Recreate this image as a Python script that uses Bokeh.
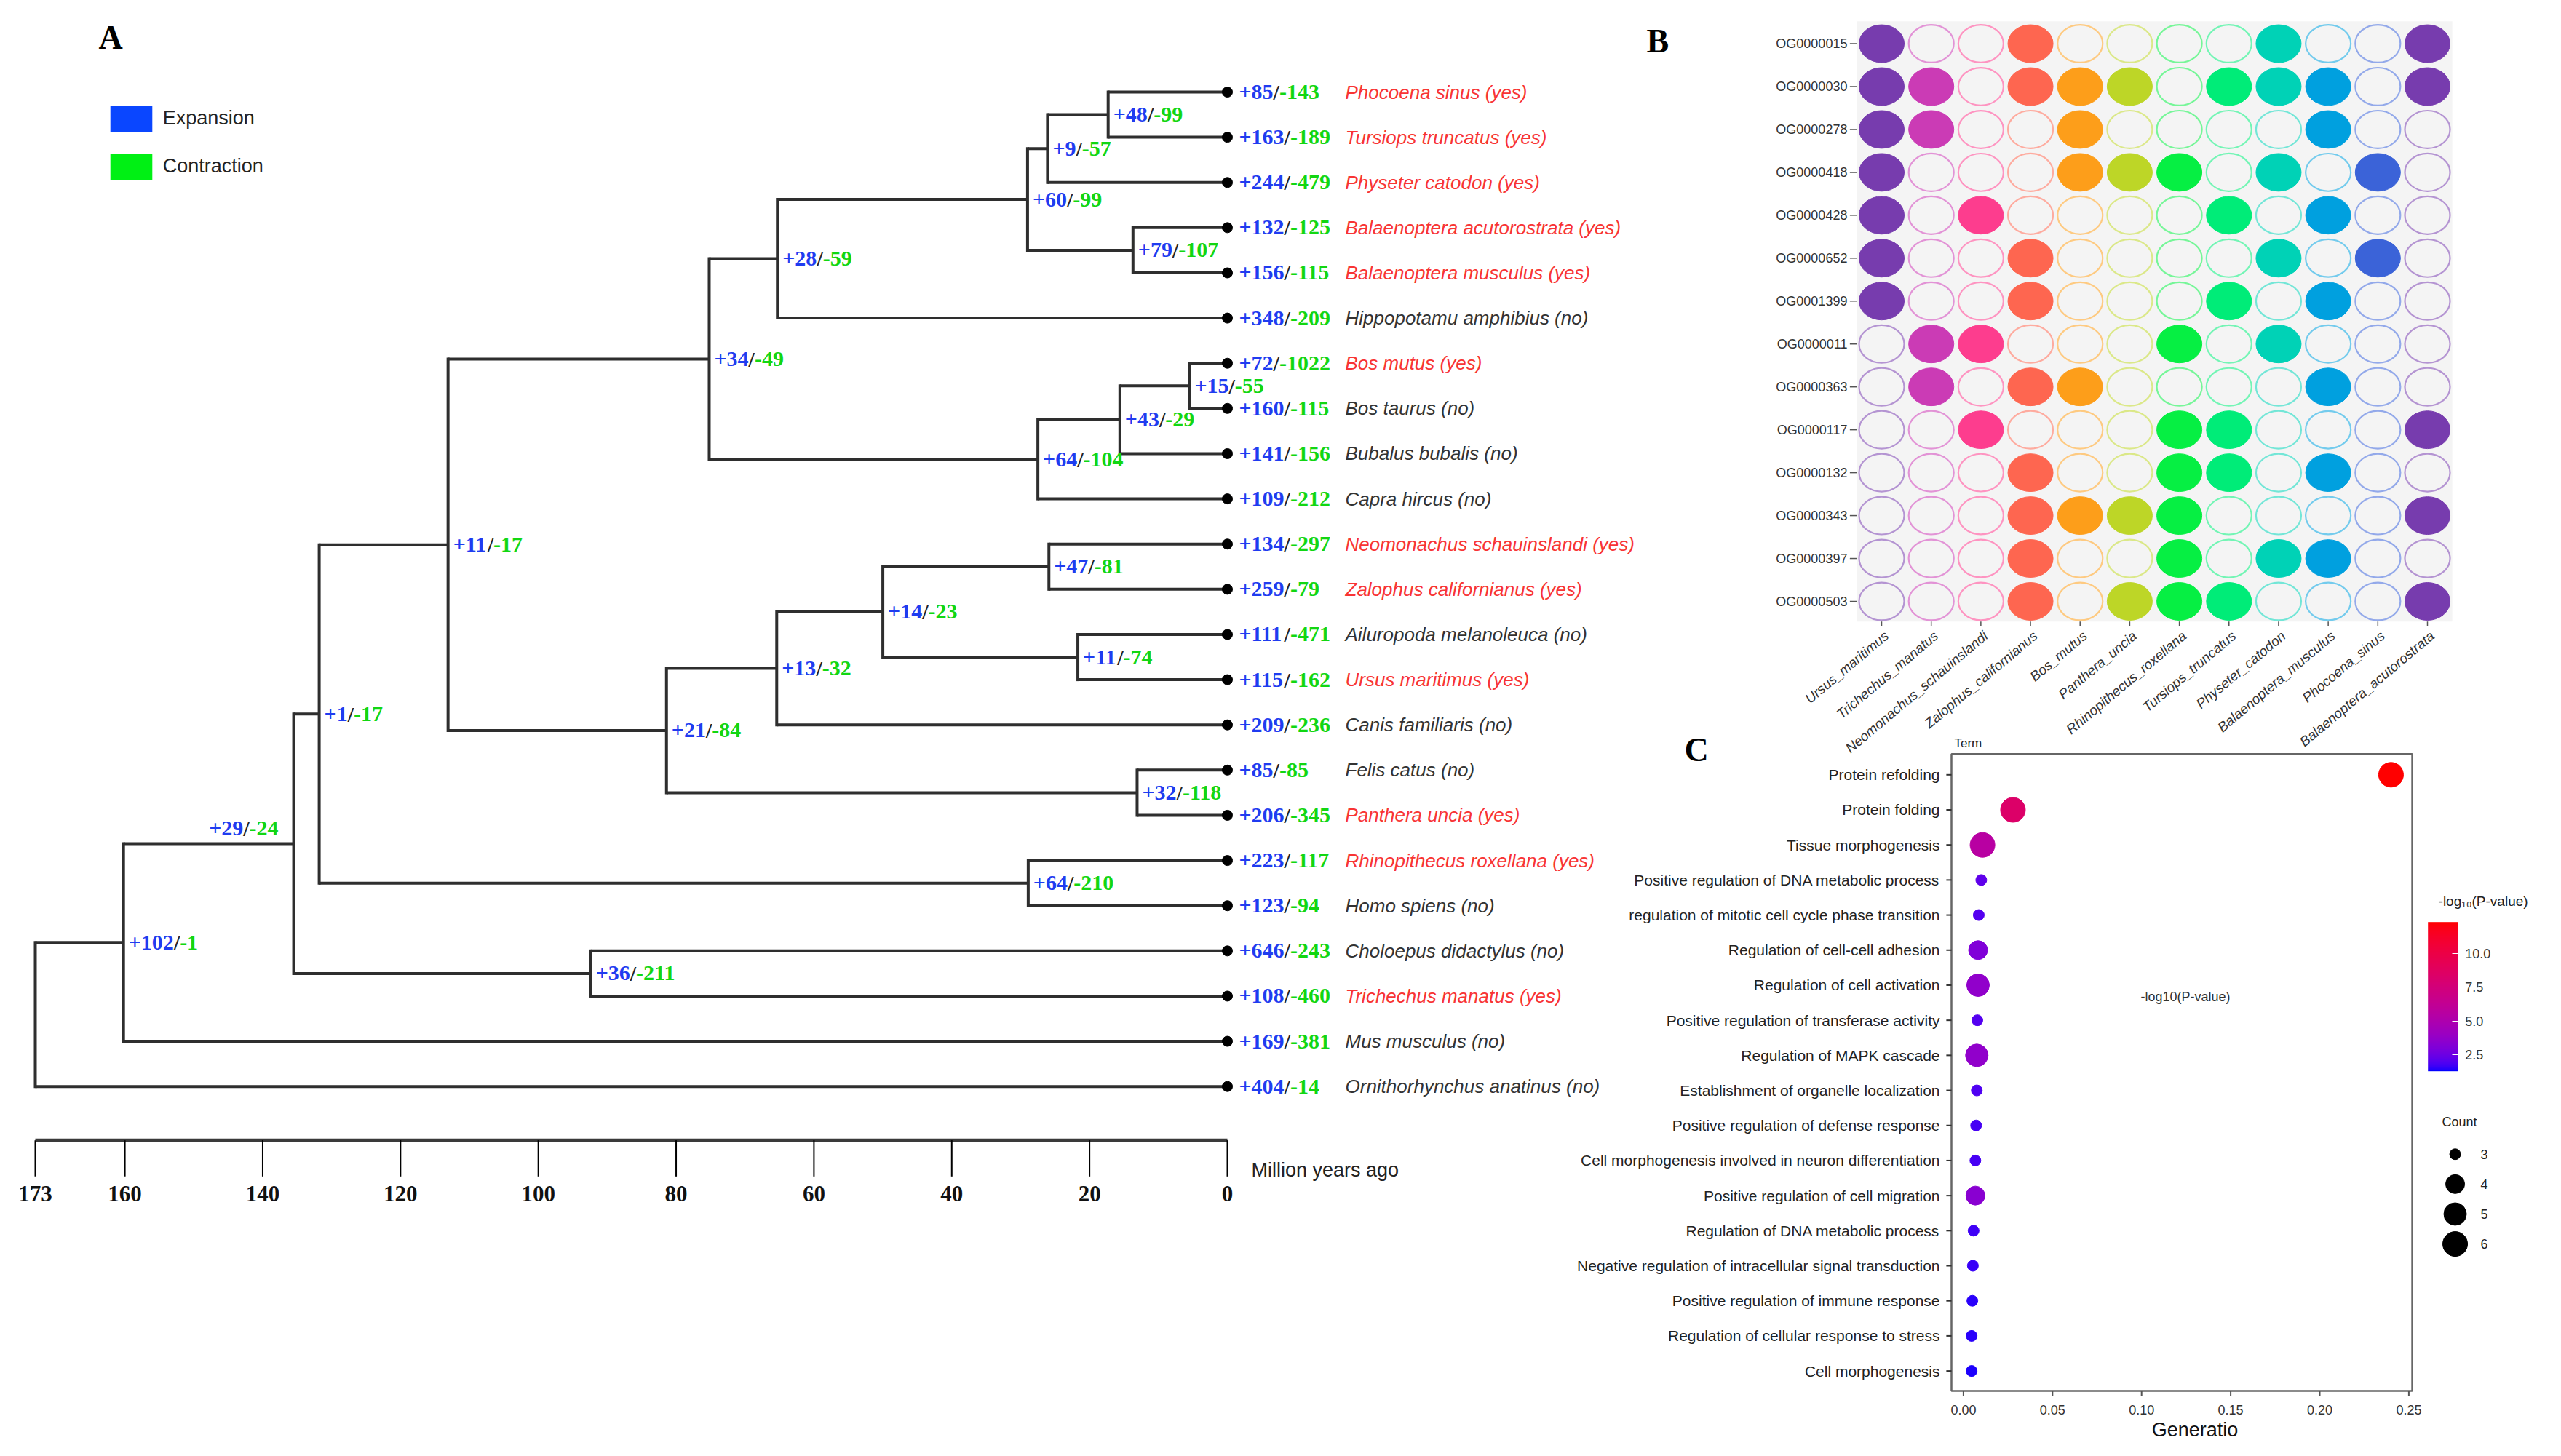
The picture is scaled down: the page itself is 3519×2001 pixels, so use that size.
import numpy as np
from bokeh.plotting import figure
from bokeh.models import (Range1d, ColumnDataSource, Legend, LegendItem, ColorBar,
                          LinearColorMapper, FixedTicker, PrintfTickFormatter)
from bokeh.core.properties import value
from bokeh.embed import file_html
from bokeh.resources import INLINE

# ======================= Panel A : data =======================
tip_names = ["Phocoena sinus", "Tursiops truncatus", "Physeter catodon",
             "Balaenoptera acutorostrata", "Balaenoptera musculus", "Hippopotamu amphibius",
             "Bos mutus", "Bos taurus", "Bubalus bubalis", "Capra hircus",
             "Neomonachus schauinslandi", "Zalophus californianus", "Ailuropoda melanoleuca",
             "Ursus maritimus", "Canis familiaris", "Felis catus", "Panthera uncia",
             "Rhinopithecus roxellana", "Homo spiens", "Choloepus didactylus",
             "Trichechus manatus", "Mus musculus", "Ornithorhynchus anatinus"]
tip_status = ["yes", "yes", "yes", "yes", "yes", "no", "yes", "no", "no", "no", "yes", "yes",
              "no", "yes", "no", "no", "yes", "yes", "no", "no", "yes", "no", "no"]
tip_expansion = [85, 163, 244, 132, 156, 348, 72, 160, 141, 109, 134, 259, 111, 115, 209,
                 85, 206, 223, 123, 646, 108, 169, 404]
tip_contraction = [143, 189, 479, 125, 115, 209, 1022, 115, 156, 212, 297, 79, 471, 162,
                   236, 85, 345, 117, 94, 243, 460, 381, 14]

node_names = ["PT", "PTP", "BAL", "CET", "WHI", "BOS", "BOV1", "BOV2", "CART",
              "PIN", "URS", "ARC", "CAN", "FEL", "CAR", "LAU", "PRI", "BOR",
              "XAF", "EUT", "THE", "ROOT"]
node_children = [["Phocoena sinus", "Tursiops truncatus"],
                 ["PT", "Physeter catodon"],
                 ["Balaenoptera acutorostrata", "Balaenoptera musculus"],
                 ["PTP", "BAL"],
                 ["CET", "Hippopotamu amphibius"],
                 ["Bos mutus", "Bos taurus"],
                 ["BOS", "Bubalus bubalis"],
                 ["BOV1", "Capra hircus"],
                 ["WHI", "BOV2"],
                 ["Neomonachus schauinslandi", "Zalophus californianus"],
                 ["Ailuropoda melanoleuca", "Ursus maritimus"],
                 ["PIN", "URS"],
                 ["ARC", "Canis familiaris"],
                 ["Felis catus", "Panthera uncia"],
                 ["CAN", "FEL"],
                 ["CART", "CAR"],
                 ["Rhinopithecus roxellana", "Homo spiens"],
                 ["LAU", "PRI"],
                 ["Choloepus didactylus", "Trichechus manatus"],
                 ["BOR", "XAF"],
                 ["EUT", "Mus musculus"],
                 ["THE", "Ornithorhynchus anatinus"]]
node_age = [17.3, 26.1, 13.7, 29.0, 65.3, 5.5, 15.6, 27.5, 75.2,
            25.9, 21.7, 50.0, 65.4, 13.1, 81.4, 113.1, 28.9, 131.8,
            92.4, 135.5, 160.2, 173.0]
node_expansion = [48, 9, 79, 60, 28, 15, 43, 64, 34, 47, 11, 14, 13, 32, 21, 11, 64, 1,
                  36, 29, 102, None]
node_contraction = [99, 57, 107, 99, 59, 55, 29, 104, 49, 81, 74, 23, 32, 118, 84, 17,
                    210, 17, 211, 24, 1, None]
node_label_side = ["right"] * 19 + ["above", "right", "right"]

time_ticks = [173, 160, 140, 120, 100, 80, 60, 40, 20, 0]
legend_labels = ["Expansion", "Contraction"]

# ======================= Panel B : data =======================
og_ids = ["OG0000015", "OG0000030", "OG0000278", "OG0000418", "OG0000428", "OG0000652",
          "OG0001399", "OG0000011", "OG0000363", "OG0000117", "OG0000132", "OG0000343",
          "OG0000397", "OG0000503"]
b_species = ["Ursus_maritimus", "Trichechus_manatus", "Neomonachus_schauinslandi",
             "Zalophus_californianus", "Bos_mutus", "Panthera_uncia",
             "Rhinopithecus_roxellana", "Tursiops_truncatus", "Physeter_catodon",
             "Balaenoptera_musculus", "Phocoena_sinus", "Balaenoptera_acutorostrata"]
b_members = ["100100001001",
             "110111011101",
             "110010000100",
             "100011101010",
             "101000010100",
             "100100001010",
             "100100010100",
             "011000101000",
             "010110000100",
             "001000110001",
             "000100110100",
             "000111100001",
             "000100101100",
             "000101110001"]

# ======================= Panel C : data =======================
go_terms = ["Protein refolding", "Protein folding", "Tissue morphogenesis",
            "Positive regulation of DNA metabolic process",
            "regulation of mitotic cell cycle phase transition",
            "Regulation of cell-cell adhesion", "Regulation of cell activation",
            "Positive regulation of transferase activity", "Regulation of MAPK cascade",
            "Establishment of organelle localization",
            "Positive regulation of defense response",
            "Cell morphogenesis involved in neuron differentiation",
            "Positive regulation of cell migration", "Regulation of DNA metabolic process",
            "Negative regulation of intracellular signal transduction",
            "Positive regulation of immune response",
            "Regulation of cellular response to stress", "Cell morphogenesis"]
gene_ratio = [0.240, 0.0278, 0.0107, 0.0100, 0.0086, 0.0082, 0.0082, 0.0078, 0.0075,
              0.0075, 0.0071, 0.0067, 0.0067, 0.0057, 0.0053, 0.0050, 0.0046, 0.0046]
go_count = [6, 6, 6, 3, 3, 4, 5, 3, 5, 3, 3, 3, 4, 3, 3, 3, 3, 3]
neg_log10_p = [12.3, 8.4, 5.6, 2.2, 2.0, 3.1, 3.7, 2.0, 3.7, 1.9, 1.8, 1.8, 3.4, 1.7,
               1.6, 1.5, 1.5, 1.4]
x_ticks_c = [0.00, 0.05, 0.10, 0.15, 0.20, 0.25]
cbar_ticks = [2.5, 5.0, 7.5, 10.0]
count_levels = [3, 4, 5, 6]

# ======================= styles =======================
SERIF = "Liberation Serif"
SANS = "Liberation Sans"
BLUE_T = "#1f3cf0"
GREEN_T = "#12d612"
SLASH_T = "#222222"
BRANCH = "#2e2e2e"
RED_NAME = "#f83434"
GREY_NAME = "#333333"
EXP_SQ = "#0a46ff"
CON_SQ = "#00f014"
NUM_PX = 30
SERIF_W = {"+": 0.570, "-": 0.333, "/": 0.278}
b_colors = ["#773cae", "#cb3bb5", "#fd3d8e", "#fe6650", "#fd9e1a", "#bdd627",
            "#06ef43", "#00ec78", "#00d2b6", "#00a0df", "#3b63d8", "#773cae"]
B_BG = "#f4f4f4"
COUNT_PX = {3: 15, 4: 26, 5: 31, 6: 34}

# Bokeh's standalone page template sets body margin to 0
W, H, M = 3500, 1985, 0


def rng(v1, r1, v2, r2, axis):
    """Range such that value v1 lands on window pixel r1 and v2 on r2."""
    if axis == "x":
        p1, p2, L = r1 - M, r2 - M, W
    else:
        p1, p2, L = H - (r1 - M), H - (r2 - M), H
    k = (v2 - v1) / (p2 - p1)
    return Range1d(start=v1 - p1 * k, end=v1 + (L - p1) * k)


def lighten(h, f=0.45):
    r, g, b = [int(h[i:i + 2], 16) for i in (1, 3, 5)]
    return "#%02x%02x%02x" % tuple(int(round(c + (255 - c) * f)) for c in (r, g, b))


def _lin(c):
    c = c / 255.0
    return c / 12.92 if c <= 0.04045 else ((c + 0.055) / 1.055) ** 2.4


def _gam(c):
    c = min(max(c, 0.0), 1.0)
    v = 12.92 * c if c <= 0.0031308 else 1.055 * c ** (1 / 2.4) - 0.055
    return int(round(min(max(v, 0.0), 1.0) * 255))


def hex_to_lab(h):
    r, g, b = [_lin(int(h[i:i + 2], 16)) for i in (1, 3, 5)]
    X = (0.4124 * r + 0.3576 * g + 0.1805 * b) / 0.95047
    Y = 0.2126 * r + 0.7152 * g + 0.0722 * b
    Z = (0.0193 * r + 0.1192 * g + 0.9505 * b) / 1.08883
    f = lambda t: t ** (1 / 3) if t > 0.008856 else 7.787 * t + 16 / 116
    fx, fy, fz = f(X), f(Y), f(Z)
    return 116 * fy - 16, 500 * (fx - fy), 200 * (fy - fz)


def lab_to_hex(L, a, b):
    fy = (L + 16) / 116
    fx = fy + a / 500
    fz = fy - b / 200
    fi = lambda t: t ** 3 if t ** 3 > 0.008856 else (t - 16 / 116) / 7.787
    X, Y, Z = 0.95047 * fi(fx), fi(fy), 1.08883 * fi(fz)
    r = 3.2406 * X - 1.5372 * Y - 0.4986 * Z
    g = -0.9689 * X + 1.8758 * Y + 0.0415 * Z
    bb = 0.0557 * X - 0.2040 * Y + 1.0570 * Z
    return "#%02x%02x%02x" % (_gam(r), _gam(g), _gam(bb))


lab_lo, lab_hi = hex_to_lab("#0000ff"), hex_to_lab("#ff0000")
palette = [lab_to_hex(*[lo + (hi - lo) * t for lo, hi in zip(lab_lo, lab_hi)])
           for t in np.linspace(0, 1, 256)]

# ======================= figure =======================
p = figure(width=W, height=H,
           x_range=rng(0, 1686, 173, 48, "x"),
           y_range=rng(0, 126, 22, 1492.7, "y"),
           output_backend="svg", toolbar_location=None, min_border=0,
           x_axis_location=None, y_axis_location=None, outline_line_color=None,
           background_fill_color="white", border_fill_color="white")
p.xgrid.visible = False
p.ygrid.visible = False
p.extra_x_ranges = {"bx": rng(0, 2585, 11, 3335, "x"),
                    "cx": rng(0, 2697.4, 0.25, 3309.4, "x")}
p.extra_y_ranges = {"by": rng(0, 59.5, 13, 826, "y"),
                    "cy": rng(0, 1064.3, 17, 1883.6, "y")}

# ---------------- Panel A: tree ----------------
n_tips = len(tip_names)
ypos = {n: float(i) for i, n in enumerate(tip_names)}
age = {n: 0.0 for n in tip_names}
for name, kids, a in zip(node_names, node_children, node_age):
    ypos[name] = sum(ypos[k] for k in kids) / len(kids)
    age[name] = a

hx0, hx1, hy, vx, vy0, vy1 = [], [], [], [], [], []
for name, kids in zip(node_names, node_children):
    vx.append(age[name])
    vy0.append(min(ypos[k] for k in kids))
    vy1.append(max(ypos[k] for k in kids))
    for k in kids:
        hx0.append(age[name])
        hx1.append(age[k])
        hy.append(ypos[k])
p.segment(x0=hx0, y0=hy, x1=hx1, y1=hy, line_color=BRANCH, line_width=4)
p.segment(x0=vx, y0=vy0, x1=vx, y1=vy1, line_color=BRANCH, line_width=4,
          line_cap="square")
p.scatter(x=[age[n] for n in tip_names], y=[ypos[n] for n in tip_names],
          size=14, color="black")


def w_serif(s):
    return sum(SERIF_W.get(c, 0.5) for c in s) * NUM_PX


pieces = dict(x=[], y=[], text=[], color=[], xo=[], yo=[])


def add_change(x, y, e, c, start, yoff=0.0, anchor="left"):
    parts = [("+%d" % e, BLUE_T), ("/", SLASH_T), ("-%d" % c, GREEN_T)]
    total = sum(w_serif(t) for t, _ in parts)
    off = start if anchor == "left" else start - total
    for t, col in parts:
        pieces["x"].append(x)
        pieces["y"].append(y)
        pieces["text"].append(t)
        pieces["color"].append(col)
        pieces["xo"].append(off)
        pieces["yo"].append(yoff)
        off += w_serif(t)


for n, e, c in zip(tip_names, tip_expansion, tip_contraction):
    add_change(age[n], ypos[n], e, c, 16)
for n, e, c, side in zip(node_names, node_expansion, node_contraction, node_label_side):
    if e is None:
        continue
    if side == "right":
        add_change(age[n], ypos[n], e, c, 7)
    else:
        add_change(age[n], ypos[n], e, c, -21, yoff=-21, anchor="right")

p.text(x="x", y="y", text="text", x_offset="xo", y_offset="yo", text_color="color",
       source=ColumnDataSource(pieces), text_font=value(SERIF), text_font_style="bold",
       text_font_size="%dpx" % NUM_PX, text_baseline="middle", text_align="left")

p.text(x=[age[n] for n in tip_names], y=[ypos[n] for n in tip_names],
       text=["%s (%s)" % (n, s) for n, s in zip(tip_names, tip_status)],
       text_color=[RED_NAME if s == "yes" else GREY_NAME for s in tip_status],
       x_offset=162, text_font=value(SANS), text_font_style="italic",
       text_font_size="26px", text_baseline="middle", text_align="left")

# time axis
AX_Y = n_tips - 1 + 1.19
p.segment(x0=[max(time_ticks)], x1=[min(time_ticks)], y0=[AX_Y], y1=[AX_Y],
          line_color="#3a3a3a", line_width=5)
p.segment(x0=time_ticks, x1=time_ticks, y0=[AX_Y] * len(time_ticks),
          y1=[AX_Y + 0.8] * len(time_ticks), line_color="black", line_width=2)
p.text(x=time_ticks, y=[AX_Y + 1.18] * len(time_ticks), text=[str(t) for t in time_ticks],
       text_font=value(SERIF), text_font_style="bold", text_font_size="31px",
       text_align="center", text_baseline="middle", text_color="#111111")
p.text(x=[0], y=[AX_Y + 0.66], x_offset=33, text=["Million years ago"],
       text_font=value(SANS), text_font_size="27px", text_baseline="middle",
       text_align="left", text_color="#222222")

# legend (Expansion / Contraction)
r_exp = p.quad(left=[np.nan], right=[np.nan], top=[np.nan], bottom=[np.nan],
               fill_color=EXP_SQ, line_color=None)
r_con = p.quad(left=[np.nan], right=[np.nan], top=[np.nan], bottom=[np.nan],
               fill_color=CON_SQ, line_color=None)
leg = Legend(items=[LegendItem(label=legend_labels[0], renderers=[r_exp]),
                    LegendItem(label=legend_labels[1], renderers=[r_con])],
             location=(143.75 - M, H - (251.65 - M)), glyph_width=72, glyph_height=46,
             spacing=20, padding=0, margin=0, label_standoff=8,
             border_line_color=None, background_fill_alpha=0,
             label_text_font=SANS, label_text_font_size="27px",
             label_text_color="#222222", label_text_baseline="middle")
p.add_layout(leg)

# panel letter A
p.text(x=[max(time_ticks)], y=[0], x_offset=135 - 48, y_offset=-75,
       text=["A"], text_font=value(SERIF), text_font_style="bold", text_font_size="46px",
       text_baseline="middle", text_align="left", text_color="black")

# ---------------- Panel B: membership dots ----------------
nb_r, nb_c = len(og_ids), len(b_species)
B_TOP, B_BOT = -0.52, nb_r - 0.53
p.quad(left=[-0.5], right=[nb_c - 0.5], top=[B_TOP], bottom=[B_BOT], fill_color=B_BG,
       line_color=None, x_range_name="bx", y_range_name="by")
ex, ey, efill, eline, ewidth = [], [], [], [], []
for r, row in enumerate(b_members):
    for c, flag in enumerate(row):
        ex.append(c)
        ey.append(r)
        if flag == "1":
            efill.append(b_colors[c])
            eline.append(b_colors[c])
            ewidth.append(1.0)
        else:
            efill.append(B_BG)
            eline.append(lighten(b_colors[c]))
            ewidth.append(2.2)
p.ellipse(x="x", y="y", width=0.91, height=0.88, fill_color="f", line_color="l",
          line_width="w", source=ColumnDataSource(dict(x=ex, y=ey, f=efill, l=eline, w=ewidth)),
          x_range_name="bx", y_range_name="by")
p.segment(x0=[-0.5 - 0.14] * nb_r, x1=[-0.5] * nb_r, y0=list(range(nb_r)),
          y1=list(range(nb_r)), line_color="#555555", line_width=1.5,
          x_range_name="bx", y_range_name="by")
p.text(x=[-0.5] * nb_r, y=list(range(nb_r)), x_offset=-13, text=og_ids,
       text_font=value(SANS), text_font_size="18px", text_align="right",
       text_baseline="middle", text_color="#333333", x_range_name="bx", y_range_name="by")
p.segment(x0=list(range(nb_c)), x1=list(range(nb_c)), y0=[B_BOT] * nb_c,
          y1=[B_BOT + 0.1] * nb_c, line_color="#555555", line_width=1.5,
          x_range_name="bx", y_range_name="by")
p.text(x=list(range(nb_c)), y=[B_BOT] * nb_c, y_offset=9, text=b_species, angle=40,
       angle_units="deg", text_font=value(SANS), text_font_style="italic",
       text_font_size="19px", text_align="right", text_baseline="top",
       text_color="#333333", x_range_name="bx", y_range_name="by")
p.text(x=[-0.5], y=[0], x_offset=-(2551 - 2262), y_offset=-4, text=["B"],
       text_font=value(SERIF), text_font_style="bold", text_font_size="46px",
       text_baseline="middle", text_align="left", text_color="black",
       x_range_name="bx", y_range_name="by")

# ---------------- Panel C: GO dot plot ----------------
nc = len(go_terms)
C_L, C_R, C_T, C_B = -0.0067, 0.2519, -0.59, nc - 1 + 0.57
p.quad(left=[C_L], right=[C_R], top=[C_T], bottom=[C_B], fill_color=None,
       line_color="#666666", line_width=2.5, x_range_name="cx", y_range_name="cy")
p.segment(x0=[C_L - 0.0029] * nc, x1=[C_L] * nc, y0=list(range(nc)), y1=list(range(nc)),
          line_color="#333333", line_width=2, x_range_name="cx", y_range_name="cy")
p.text(x=[C_L] * nc, y=list(range(nc)), x_offset=-16, text=go_terms,
       text_font=value(SANS), text_font_size="21px", text_align="right",
       text_baseline="middle", text_color="#222222", x_range_name="cx", y_range_name="cy")
p.segment(x0=x_ticks_c, x1=x_ticks_c, y0=[C_B] * len(x_ticks_c),
          y1=[C_B + 0.15] * len(x_ticks_c), line_color="#555555", line_width=2,
          x_range_name="cx", y_range_name="cy")
p.text(x=x_ticks_c, y=[C_B] * len(x_ticks_c), y_offset=26,
       text=["%.2f" % v for v in x_ticks_c], text_font=value(SANS), text_font_size="18px",
       text_align="center", text_baseline="middle", text_color="#333333",
       x_range_name="cx", y_range_name="cy")
p.text(x=[(C_L + C_R) / 2], y=[C_B], x_offset=18, y_offset=53, text=["Generatio"],
       text_font=value(SANS), text_font_size="27px", text_align="center",
       text_baseline="middle", text_color="#111111", x_range_name="cx", y_range_name="cy")
p.text(x=[C_L], y=[C_T], x_offset=4, y_offset=-15, text=["Term"],
       text_font=value(SANS), text_font_size="17px", text_align="left",
       text_baseline="middle", text_color="#222222", x_range_name="cx", y_range_name="cy")
p.text(x=[(C_L + C_R) / 2], y=[6.34], x_offset=5, text=["-log10(P-value)"],
       text_font=value(SANS), text_font_size="18px", text_align="center",
       text_baseline="middle", text_color="#333333", x_range_name="cx", y_range_name="cy")
p.text(x=[C_L], y=[C_T], x_offset=-(2681 - 2314), y_offset=-6, text=["C"],
       text_font=value(SERIF), text_font_style="bold", text_font_size="46px",
       text_baseline="middle", text_align="left", text_color="black",
       x_range_name="cx", y_range_name="cy")

mapper = LinearColorMapper(palette=palette, low=1.29, high=12.33)
csrc = ColumnDataSource(dict(x=gene_ratio, y=list(range(nc)), nlp=neg_log10_p,
                             s=[COUNT_PX[c] for c in go_count]))
p.scatter(x="x", y="y", size="s", source=csrc,
          fill_color={"field": "nlp", "transform": mapper},
          line_color={"field": "nlp", "transform": mapper},
          x_range_name="cx", y_range_name="cy")

# ColorBar draws its bar slightly right of its anchor; anchor shifted to compensate
cb = ColorBar(color_mapper=mapper, location=(3352.7 - 17 - M, H - (1471.7 - M)),
              width=41, height=205, padding=0, margin=0,
              ticker=FixedTicker(ticks=cbar_ticks),
              formatter=PrintfTickFormatter(format="%.1f"),
              major_label_text_font=SANS, major_label_text_font_size="18px",
              major_label_text_color="#333333", label_standoff=10,
              major_tick_line_color="white", major_tick_in=8, major_tick_out=0,
              minor_tick_line_color=None, bar_line_color=None,
              border_line_color=None, background_fill_color=None)
p.add_layout(cb)
# colour-bar title (drawn horizontally above the bar, as in ggplot)
p.text(x=[C_R], y=[3.60], x_offset=36, text=["-log\u2081\u2080(P-value)"],
       text_font=value(SANS), text_font_size="19px", text_align="left",
       text_baseline="middle", text_color="#222222", x_range_name="cx", y_range_name="cy")

# count (size) legend
CL_X = 0.276
cl_y = [10.82 + 0.853 * i for i in range(len(count_levels))]
p.scatter(x=[CL_X] * len(count_levels), y=cl_y, size=[COUNT_PX[c] for c in count_levels],
          color="black", x_range_name="cx", y_range_name="cy")
p.text(x=[CL_X] * len(count_levels), y=cl_y, x_offset=35,
       text=[str(c) for c in count_levels], text_font=value(SANS),
       text_font_size="18px", text_align="left", text_baseline="middle",
       text_color="#222222", x_range_name="cx", y_range_name="cy")
p.text(x=[CL_X], y=[cl_y[0]], x_offset=-18, y_offset=-44, text=["Count"],
       text_font=value(SANS), text_font_size="18px", text_align="left",
       text_baseline="middle", text_color="#222222", x_range_name="cx", y_range_name="cy")

open("out.html", "w").write(file_html(p, INLINE))
